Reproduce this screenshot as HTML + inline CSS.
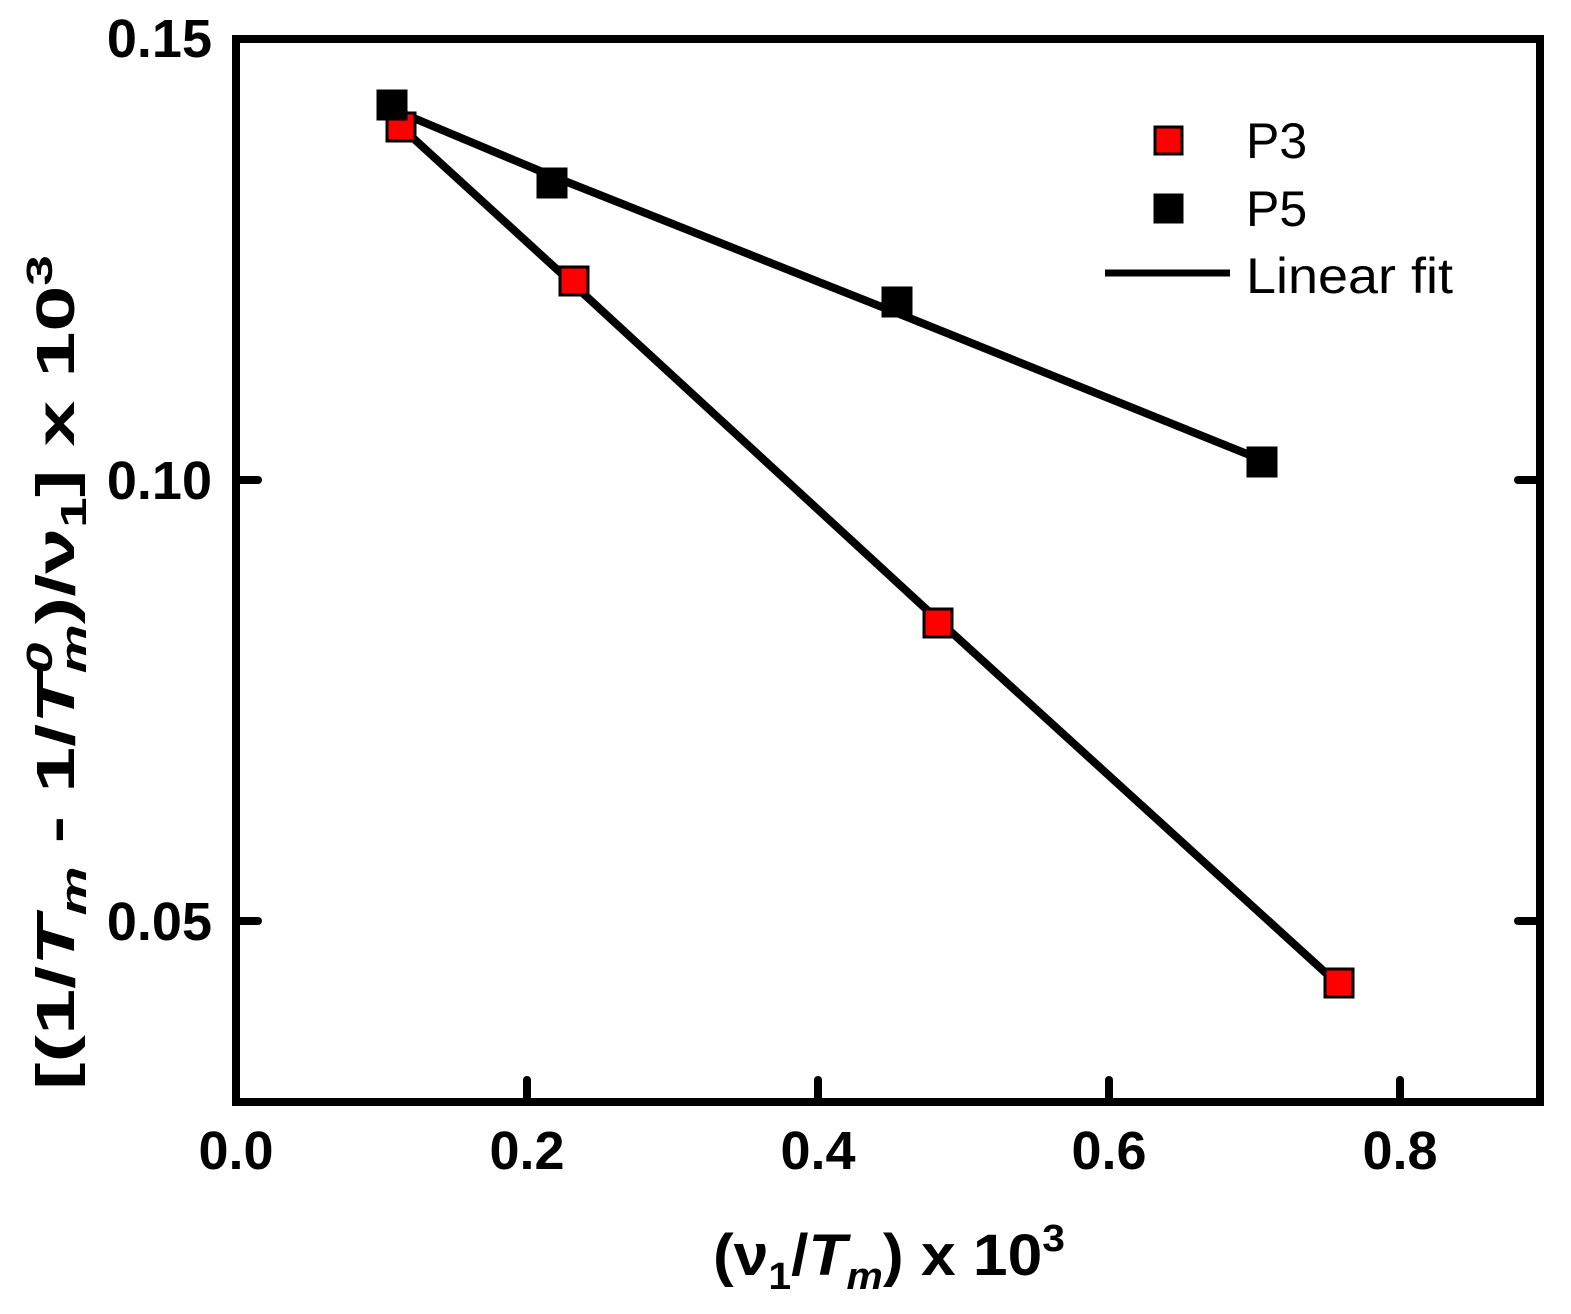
<!DOCTYPE html>
<html><head><meta charset="utf-8"><style>
html,body{margin:0;padding:0;background:#fff}
svg{display:block}
text{font-family:"Liberation Sans",Arial,sans-serif}
</style></head><body>
<svg width="1571" height="1314" viewBox="0 0 1571 1314" xmlns="http://www.w3.org/2000/svg">
<rect width="1571" height="1314" fill="#fff"/>
<g stroke="#000" stroke-width="8" stroke-linecap="round">
<line x1="527" y1="1102" x2="527" y2="1080"/>
<line x1="818" y1="1102" x2="818" y2="1080"/>
<line x1="1109" y1="1102" x2="1109" y2="1080"/>
<line x1="1400" y1="1102" x2="1400" y2="1080"/>
<line x1="236" y1="480" x2="258" y2="480"/>
<line x1="236" y1="921" x2="258" y2="921"/>
<line x1="1540" y1="480" x2="1518" y2="480"/>
<line x1="1540" y1="921" x2="1518" y2="921"/>
</g>
<rect x="236" y="39" width="1304" height="1063" fill="none" stroke="#000" stroke-width="8"/>
<g font-size="54" font-weight="bold" text-anchor="middle">
<text x="236" y="1169">0.0</text>
<text x="527" y="1169">0.2</text>
<text x="818" y="1169">0.4</text>
<text x="1109" y="1169">0.6</text>
<text x="1400" y="1169">0.8</text>
</g>
<g font-size="54" font-weight="bold" text-anchor="end">
<text x="212" y="57">0.15</text>
<text x="212" y="499">0.10</text>
<text x="212" y="940">0.05</text>
</g>
<g stroke="#000" stroke-width="8" fill="none" stroke-linecap="round">
<polyline points="392,109 552,176 897,313 1262,460"/>
<polyline points="401,127 574,285 938,620 1339,985"/>
</g>
<g stroke="#000" stroke-width="3">
<rect x="387" y="113" width="28" height="28" fill="#f00"/>
<rect x="560" y="267" width="28" height="28" fill="#f00"/>
<rect x="924" y="609" width="28" height="28" fill="#f00"/>
<rect x="1325" y="969" width="28" height="28" fill="#f00"/>
<rect x="378" y="91" width="28" height="28" fill="#000"/>
<rect x="538" y="169" width="28" height="28" fill="#000"/>
<rect x="883" y="288" width="28" height="28" fill="#000"/>
<rect x="1248" y="448" width="28" height="28" fill="#000"/>
</g>
<rect x="1155" y="127" width="27" height="27" fill="#f00" stroke="#000" stroke-width="3"/>
<rect x="1155" y="195" width="27" height="27" fill="#000" stroke="#000" stroke-width="3"/>
<line x1="1105" y1="273" x2="1230" y2="273" stroke="#000" stroke-width="7"/>
<g font-size="50">
<text x="1246" y="158">P3</text>
<text x="1246" y="226">P5</text>
<text x="1246" y="293" textLength="207" lengthAdjust="spacingAndGlyphs">Linear fit</text>
</g>
<text x="713" y="1275" font-size="58" font-weight="bold" textLength="352" lengthAdjust="spacingAndGlyphs">(ν<tspan font-size="38" dy="14">1</tspan><tspan dy="-14">/</tspan><tspan font-style="italic">T</tspan><tspan font-size="38" font-style="italic" dy="14">m</tspan><tspan dy="-14">) x 10</tspan><tspan font-size="38" dy="-24">3</tspan></text>
<text transform="translate(74,1090) rotate(-90)" font-size="54" font-weight="bold" textLength="835" lengthAdjust="spacingAndGlyphs">[(1/<tspan font-style="italic">T</tspan><tspan font-size="36" font-style="italic" dy="12">m</tspan><tspan dy="-12"> - 1/</tspan><tspan font-style="italic">T</tspan><tspan font-size="36" font-style="italic" dy="-22">0</tspan><tspan font-size="36" font-style="italic" dx="-20" dy="34">m</tspan><tspan dy="-12">)/ν</tspan><tspan font-size="36" dy="12">1</tspan><tspan dy="-12">] x 10</tspan><tspan font-size="36" dy="-22">3</tspan></text>
</svg>
</body></html>
